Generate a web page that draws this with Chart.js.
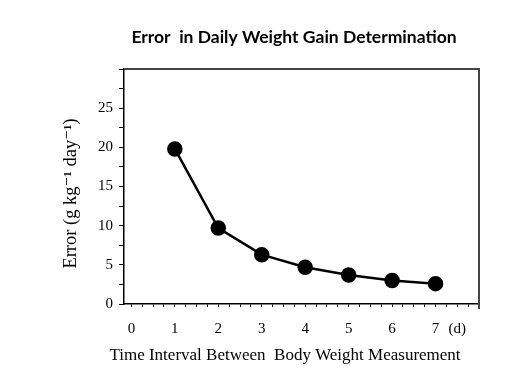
<!DOCTYPE html>
<html>
<head>
<meta charset="utf-8">
<script src="https://cdn.jsdelivr.net/npm/chart.js@4"></script>
<style>
    body { margin: 0; background: #fff; }
</style>
</head>
<body>
<canvas id="error_chart" width="520" height="377"></canvas>
<script>
// days between weighings and the error in daily gain
var days = [1, 2, 3, 4, 5, 6, 7];
var errorValues = [19.8, 9.7, 6.3, 4.7, 3.7, 3.0, 2.6];
var yTickLabels = [0, 5, 10, 15, 20, 25];
var xTickLabels = [0, 1, 2, 3, 4, 5, 6, 7];
var unitLabel = '(d)';
var chartTitle = 'Error  in Daily Weight Gain Determination';
var xTitle = 'Time Interval Between  Body Weight Measurement';

var serif = "'Liberation Serif', 'DejaVu Serif', serif";

// titles sit a bit left of the plot centre, and the frame is closed on top and right
var frameBox = {
    id: 'frameBox',
    afterDraw: function (chart) {
        var a = chart.chartArea;
        var ctx = chart.ctx;
        ctx.save();
        ctx.strokeStyle = '#444';
        ctx.lineWidth = 2;
        ctx.beginPath();
        ctx.moveTo(a.left, a.top);
        ctx.lineTo(a.right, a.top);
        ctx.lineTo(a.right, a.bottom + 5);
        ctx.stroke();

        ctx.fillStyle = '#000';
        ctx.textAlign = 'center';
        ctx.textBaseline = 'middle';
        ctx.font = 'bold 17.5px Lato';
        ctx.fillText(chartTitle, 294, 37);
        ctx.font = '17px ' + serif;
        ctx.fillText(xTitle, 285, 356);
        ctx.restore();
    }
};

function near(v, list) {
    for (var i = 0; i < list.length; i++) {
        if (Math.abs(v - list[i]) < 1e-6) return true;
    }
    return false;
}

new Chart(document.getElementById('error_chart').getContext('2d'), {
    type: 'scatter',
    data: {
        datasets: [{
            data: days.map(function (d, i) { return { x: d, y: errorValues[i] }; }),
            showLine: true,
            borderColor: '#000',
            borderWidth: 2.5,
            backgroundColor: '#000',
            pointRadius: 6.5,
            pointBackgroundColor: '#000',
            pointBorderColor: '#000'
        }]
    },
    options: {
        responsive: false,
        animation: false,
        layout: { padding: { left: 0, right: 41, top: 69, bottom: 0 } },
        plugins: {
            legend: { display: false },
            tooltip: { enabled: false },
            title: { display: false }
        },
        scales: {
            x: {
                type: 'linear',
                min: -0.17,
                max: 8,
                afterFit: function (scale) { scale.height = 73; },
                afterBuildTicks: function (scale) {
                    var t = [];
                    for (var i = 0; i <= 32; i++) t.push({ value: i * 0.25 });
                    scale.ticks = t;
                },
                border: { display: true, color: '#000', width: 1.5 },
                grid: { drawOnChartArea: false, drawTicks: true, tickLength: 3, color: '#000' },
                ticks: {
                    autoSkip: false,
                    maxRotation: 0,
                    padding: 13,
                    color: '#000',
                    font: { family: serif, size: 15 },
                    callback: function (v) {
                        if (near(v, xTickLabels)) return String(Math.round(v));
                        if (near(v, [7.5])) return unitLabel;
                        return '';
                    }
                }
            },
            y: {
                min: 0,
                max: 30,
                afterFit: function (scale) { scale.width = 124; },
                border: { display: true, color: '#000', width: 1.5 },
                grid: { drawOnChartArea: false, drawTicks: true, tickLength: 5, color: '#000' },
                ticks: {
                    stepSize: 2.5,
                    autoSkip: false,
                    padding: 6,
                    color: '#000',
                    font: { family: serif, size: 15 },
                    callback: function (v) {
                        return near(v, yTickLabels) ? String(v) : '';
                    }
                },
                title: {
                    display: true,
                    text: 'Error (g kg\u207B\u00B9 day\u207B\u00B9)   ',
                    color: '#000',
                    font: { family: serif, size: 18.5 },
                    padding: { top: 60, bottom: 0 }
                }
            }
        }
    },
    plugins: [frameBox]
});
</script>
</body>
</html>
